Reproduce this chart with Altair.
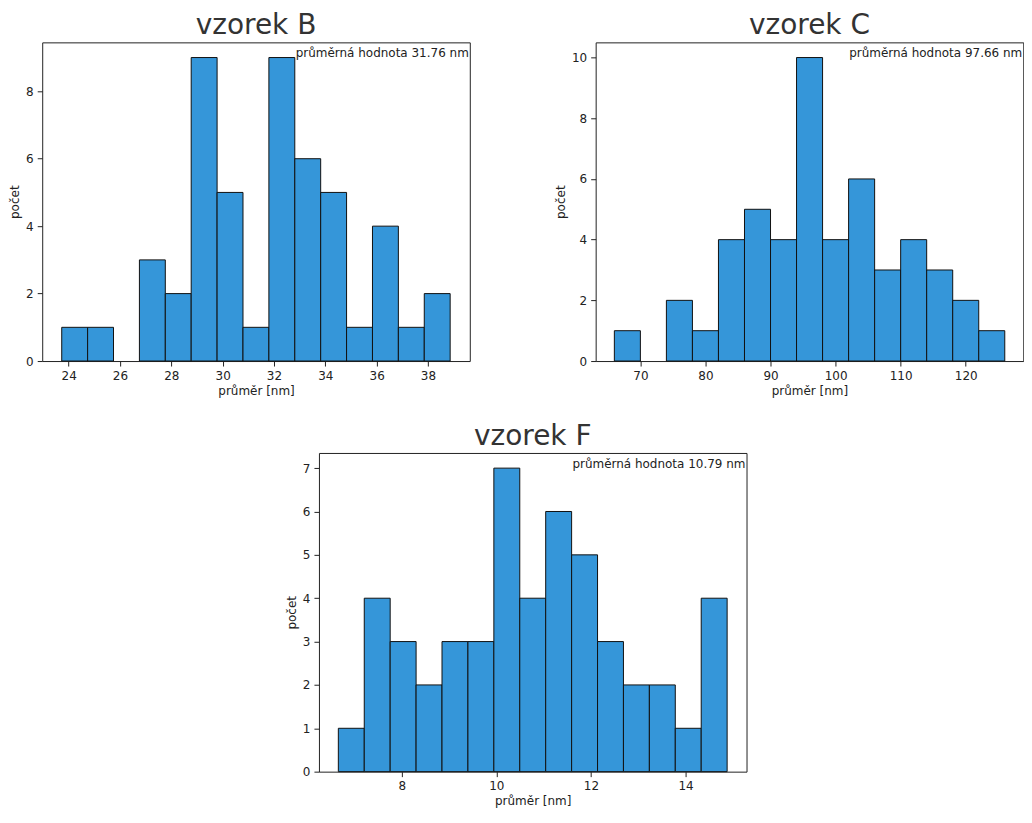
import altair as alt
import pandas as pd

FONT = "DejaVu Sans"

# ---- data ----
b_edges = [23.73 + i * 1.009 for i in range(16)]
b_counts = [1, 1, 0, 3, 2, 9, 5, 1, 9, 6, 5, 1, 4, 1, 2]
b_mean = 31.76

c_edges = [66, 70, 74, 78, 82, 86, 90, 94, 98, 102, 106, 110, 114, 118, 122, 126]
c_counts = [1, 0, 2, 1, 4, 5, 4, 10, 4, 6, 3, 4, 3, 2, 1]
c_mean = 97.66

f_edges = [6.66 + i * 0.548 for i in range(16)]
f_counts = [1, 4, 3, 2, 3, 3, 7, 4, 6, 5, 3, 2, 2, 1, 4]
f_mean = 10.79

W, H = 428, 319


def panel(name, edges, counts, mean, xdom, ydom, xticks, yticks):
    df = pd.DataFrame({"start": edges[:-1], "end": edges[1:], "count": counts})
    bars = alt.Chart(df).transform_filter(
        alt.datum["count"] > 0
    ).mark_bar(
        color="#3596d9", stroke="#111111", strokeWidth=1
    ).encode(
        x=alt.X("start:Q", title="průměr [nm]",
                scale=alt.Scale(domain=xdom, nice=False, zero=False),
                axis=alt.Axis(values=xticks, titlePadding=4)),
        x2="end:Q",
        y=alt.Y("count:Q", title="počet",
                scale=alt.Scale(domain=ydom, nice=False),
                axis=alt.Axis(values=yticks, titlePadding=4)),
        y2=alt.datum(0),
    )
    ann = alt.Chart(pd.DataFrame({"t": [f"průměrná hodnota {mean} nm"]})).mark_text(
        align="right", baseline="middle", font=FONT, fontSize=12, color="#222222"
    ).encode(
        x=alt.value(W - 1), y=alt.value(11), text="t:N"
    )
    return alt.layer(bars, ann).properties(
        width=W, height=H,
        title=alt.TitleParams(name, fontSize=28, font=FONT, color="#333333",
                              fontWeight="normal", anchor="middle", offset=2),
    )


pb = panel("vzorek B", b_edges, b_counts, b_mean, [22.97, 39.63], [0, 9.45],
           [24, 26, 28, 30, 32, 34, 36, 38], [0, 2, 4, 6, 8])
pc = panel("vzorek C", c_edges, c_counts, c_mean, [63.13, 128.84], [0, 10.5],
           [70, 80, 90, 100, 110, 120], [0, 2, 4, 6, 8, 10])
pf = panel("vzorek F", f_edges, f_counts, f_mean, [6.25, 15.29], [0, 7.35],
           [8, 10, 12, 14], [0, 1, 2, 3, 4, 5, 6, 7])

chart = alt.vconcat(
    alt.hconcat(pb, pc, spacing=83),
    pf,
    spacing=25,
    center=True,
).properties(
    padding={"left": 0, "right": 0, "top": 3, "bottom": 0}
).configure_view(
    stroke="#222222", strokeWidth=1
).configure_axis(
    grid=False, domain=False, tickColor="#222222", tickSize=5,
    labelFont=FONT, labelFontSize=12, labelColor="#222222", labelPadding=4,
    titleFont=FONT, titleFontSize=12, titleColor="#222222", titleFontWeight="normal",
)

chart.save("out.html", embed_options={"renderer": "svg", "actions": False})
